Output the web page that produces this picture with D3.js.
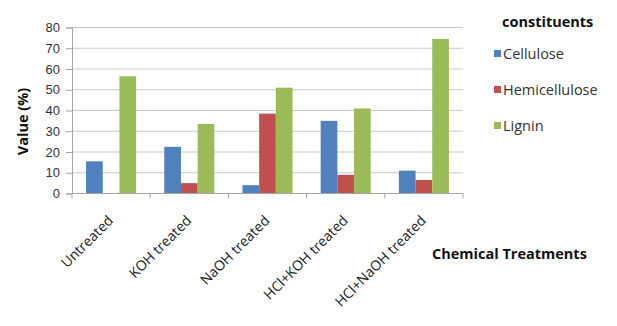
<!DOCTYPE html>
<html>
<head>
<meta charset="utf-8">
<script src="https://cdn.jsdelivr.net/npm/d3@7"></script>
<style>
  html, body { margin: 0; padding: 0; background: #fff; }
  svg { display: block; font-family: "Open Sans", Lato, sans-serif; }
</style>
</head>
<body>
<svg id="chart" width="617" height="326"></svg>
<script>
// Composition of the fibre after each chemical treatment (%)
const treatments = ["Untreated", "KOH treated", "NaOH treated", "HCl+KOH treated", "HCl+NaOH treated"];
const constituents = ["Cellulose", "Hemicellulose", "Lignin"];
const cellulose     = [15.5, 22.5, 4, 35, 11];
const hemicellulose = [0, 5, 38.5, 9, 6.5];
const lignin        = [56.5, 33.5, 51, 41, 74.5];
const yTicks = [0, 10, 20, 30, 40, 50, 60, 70, 80];
const colors = ["#4F81BD", "#C0504D", "#9BBB59"];

const series = [cellulose, hemicellulose, lignin];

const svg = d3.select("#chart");
const plot = { left: 72, right: 463, top: 27.5, bottom: 193.5 };

const x = d3.scaleBand().domain(treatments).range([plot.left, plot.right]).paddingInner(0.36).paddingOuter(0.18);
const xGroup = d3.scaleBand().domain(treatments).range([plot.left, plot.right]);
const xSub = d3.scaleBand().domain(constituents).range([0, x.bandwidth()]);
const y = d3.scaleLinear().domain([0, 80]).range([plot.bottom, plot.top]);

// horizontal gridlines
svg.append("g").selectAll("line").data(yTicks.filter(d => d > 0)).join("line")
  .attr("x1", plot.left).attr("x2", plot.right)
  .attr("y1", d => y(d)).attr("y2", d => y(d))
  .attr("stroke", "#c9c9c9").attr("stroke-width", 1);

// bars
const groups = svg.append("g").selectAll("g").data(treatments).join("g")
  .attr("transform", d => `translate(${xGroup(d) + (xGroup.bandwidth() - x.bandwidth()) / 2},0)`);
groups.selectAll("rect")
  .data((d, i) => constituents.map((c, k) => ({ c, v: series[k][i], k })))
  .join("rect")
  .attr("x", d => xSub(d.c))
  .attr("width", xSub.bandwidth())
  .attr("y", d => y(d.v))
  .attr("height", d => plot.bottom - y(d.v))
  .attr("fill", d => colors[d.k]);

// y axis
const yAxis = svg.append("g").attr("transform", `translate(${plot.left},0)`)
  .call(d3.axisLeft(y).tickValues(yTicks).tickSize(6).tickPadding(6));
yAxis.select(".domain").attr("stroke", "#a6a6a6");
yAxis.selectAll(".tick line").attr("stroke", "#a6a6a6");
yAxis.selectAll("text").attr("font-size", 13).attr("fill", "#333");

// x axis with ticks at category boundaries
const xAxisG = svg.append("g").attr("transform", `translate(0,${plot.bottom})`);
xAxisG.append("line").attr("x1", plot.left).attr("x2", plot.right)
  .attr("stroke", "#a6a6a6");
const bounds = treatments.map(t => xGroup(t)).concat([plot.right]);
xAxisG.selectAll("line.tk").data(bounds).join("line").attr("class", "tk")
  .attr("x1", d => d).attr("x2", d => d).attr("y1", 0).attr("y2", 5)
  .attr("stroke", "#a6a6a6");
xAxisG.selectAll("text").data(treatments).join("text")
  .attr("transform", d => `translate(${xGroup(d) + xGroup.bandwidth() / 2 + 3},${28}) rotate(-45)`)
  .attr("text-anchor", "end")
  .attr("font-size", 14)
  .attr("fill", "#222")
  .text(d => d);

// axis titles
svg.append("text")
  .attr("transform", `translate(28,${(plot.top + plot.bottom) / 2 + 11}) rotate(-90)`)
  .attr("text-anchor", "middle")
  .attr("font-size", 14.5).attr("font-weight", "bold").attr("fill", "#111")
  .text("Value (%)");
svg.append("text")
  .attr("x", 432).attr("y", 259)
  .attr("font-size", 14.5).attr("font-weight", "bold").attr("fill", "#111")
  .text("Chemical Treatments");

// legend
const legend = svg.append("g");
legend.append("text").attr("x", 502).attr("y", 27)
  .attr("font-size", 14.5).attr("font-weight", "bold").attr("fill", "#111")
  .text("constituents");
const items = legend.selectAll("g.item").data(constituents).join("g").attr("class", "item")
  .attr("transform", (d, i) => `translate(494,${54 + i * 36})`);
items.append("rect").attr("x", 0).attr("y", -4).attr("width", 7).attr("height", 7)
  .attr("fill", (d, i) => colors[i]);
items.append("text").attr("x", 9).attr("y", 5)
  .attr("font-size", 14.5).attr("fill", "#333")
  .text(d => d);
</script>
</body>
</html>
